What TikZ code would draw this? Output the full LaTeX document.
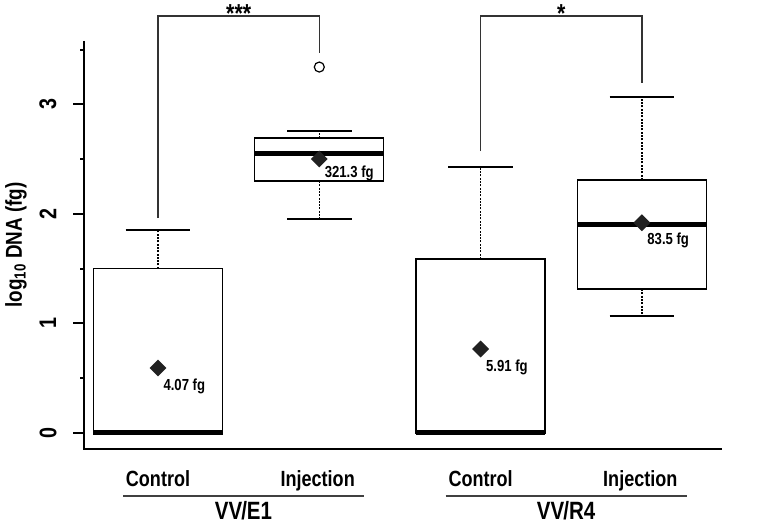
\documentclass[tikz,border=0pt]{standalone}
\usepackage{fontspec}
\setmainfont[FakeStretch=0.82]{Liberation Sans}
\usetikzlibrary{shapes.geometric}

\begin{document}
\begin{tikzpicture}[x=1pt, y=1pt, font=\bfseries,
                    boxline/.style={line width=1.3pt},
                    medline/.style={line width=5pt},
                    whisk/.style={line width=1.2pt, dash pattern=on 2pt off 1.3pt},
                    capline/.style={line width=1.6pt},
                    axisline/.style={line width=2pt},
                    bracket/.style={line width=1.3pt, black!80},
                    meanpt/.style={diamond, fill=black!87, minimum size=17pt, inner sep=0pt},
                    vallabel/.style={font=\bfseries\fontsize{16}{16}\selectfont}]
                    \useasboundingbox (0, 0) rectangle (784, 527);
                    \begin{scope}[shift={(-3.3pt, 94pt)}, x=161.3pt, y=109.5pt]
                    \coordinate (o) at (0.541, -0.146);
                    \draw [axisline] (0.541, 3.58) -- (o) -- (4.497, -0.146);
                    \foreach \v in {0, 1, 2, 3} {
                        \draw [axisline] (0.541, \v) -- ++(-11pt, 0);
                        \node [rotate=90, font=\bfseries\fontsize{24}{24}\selectfont] at (0.318, \v) {\v};
                    }
                    \foreach \v in {0.5, 1.5, 2.5, 3.5}
                        \draw [axisline] (0.541, \v) -- ++(-4pt, 0);
                    \node [rotate=90, font=\bfseries\fontsize{23}{23}\selectfont] (ylab) at (0.12, 1.717) {log\textsubscript{10} DNA (fg)};

                    \draw [whisk] (1, 1.5) -- (1, 1.854);
                    \draw [capline] (0.8, 1.854) -- (1.2, 1.854);
                    \draw [boxline, fill=white] (0.6, 0) rectangle (1.4, 1.5);
                    \draw [medline] (0.6, 0) -- (1.4, 0);
                    \node [meanpt] (m1) at (1, 0.594) {};
                    \node [vallabel, anchor=north west] at ([xshift=2pt, yshift=-7pt] m1.center) {4.07 fg};

                    \draw [whisk] (2, 2.694) -- (2, 2.758);
                    \draw [whisk] (2, 2.301) -- (2, 1.954);
                    \draw [capline] (1.8, 2.758) -- (2.2, 2.758);
                    \draw [capline] (1.8, 1.954) -- (2.2, 1.954);
                    \draw [boxline, fill=white] (1.6, 2.301) rectangle (2.4, 2.694);
                    \draw [medline] (1.6, 2.557) -- (2.4, 2.557);
                    \node [meanpt] (m2) at (2, 2.502) {};
                    \node [vallabel, anchor=north west] at ([xshift=2pt, yshift=-3pt] m2.center) {321.3 fg};
                    \node [circle, draw, line width=1.2pt, minimum size=10pt, inner sep=0pt] (out) at (2, 3.342) {};

                    \draw [whisk] (3, 1.589) -- (3, 2.429);
                    \draw [capline] (2.8, 2.429) -- (3.2, 2.429);
                    \draw [boxline, fill=white] (2.6, 0) rectangle (3.4, 1.589);
                    \draw [medline] (2.6, 0) -- (3.4, 0);
                    \node [meanpt] (m3) at (3, 0.767) {};
                    \node [vallabel, anchor=north west] at ([xshift=2pt, yshift=-7pt] m3.center) {5.91 fg};

                    \draw [whisk] (4, 2.311) -- (4, 3.068);
                    \draw [whisk] (4, 1.315) -- (4, 1.068);
                    \draw [capline] (3.8, 3.068) -- (4.2, 3.068);
                    \draw [capline] (3.8, 1.068) -- (4.2, 1.068);
                    \draw [boxline, fill=white] (3.6, 1.315) rectangle (4.4, 2.311);
                    \draw [medline] (3.6, 1.9) -- (4.4, 1.9);
                    \node [meanpt] (m4) at (4, 1.92) {};
                    \node [vallabel, anchor=north west] at ([xshift=2pt, yshift=-7pt] m4.center) {83.5 fg};

                    \coordinate (a) at (1, 1.963);
                    \coordinate (b) at (2, 3.47);
                    \coordinate (c) at (3, 2.575);
                    \coordinate (d) at (4, 3.196);
                    \draw [bracket] (a) -- (1, 3.808) -- (2, 3.808) -- (b);
                    \draw [bracket] (c) -- (3, 3.808) -- (4, 3.808) -- (d);
                    \node [anchor=base, inner sep=0pt, font=\bfseries\fontsize{26}{26}\selectfont] at (1.5, 3.753) {***};
                    \node [anchor=base, inner sep=0pt, font=\bfseries\fontsize{26}{26}\selectfont] at (3.5, 3.753) {*};

                    \foreach \x/\g in {1/{VV\kern-1pt/E1}, 3/{VV\kern-1pt/R4}} {
                        \node [anchor=base, font=\bfseries\fontsize{22}{22}\selectfont] at (\x, -0.493) {Control};
                        \node [anchor=base, font=\bfseries\fontsize{22}{22}\selectfont] at (\x + 0.99, -0.493) {Injection};
                        \draw [line width=1.3pt, black!75] (\x - 0.217, -0.575) -- (\x + 1.277, -0.575);
                        \node [anchor=base, inner sep=0pt, font=\bfseries\fontsize{25}{25}\selectfont] at (\x + 0.53, -0.79) {\g};
                    }
                    \end{scope}
                \end{tikzpicture}
\end{document}
